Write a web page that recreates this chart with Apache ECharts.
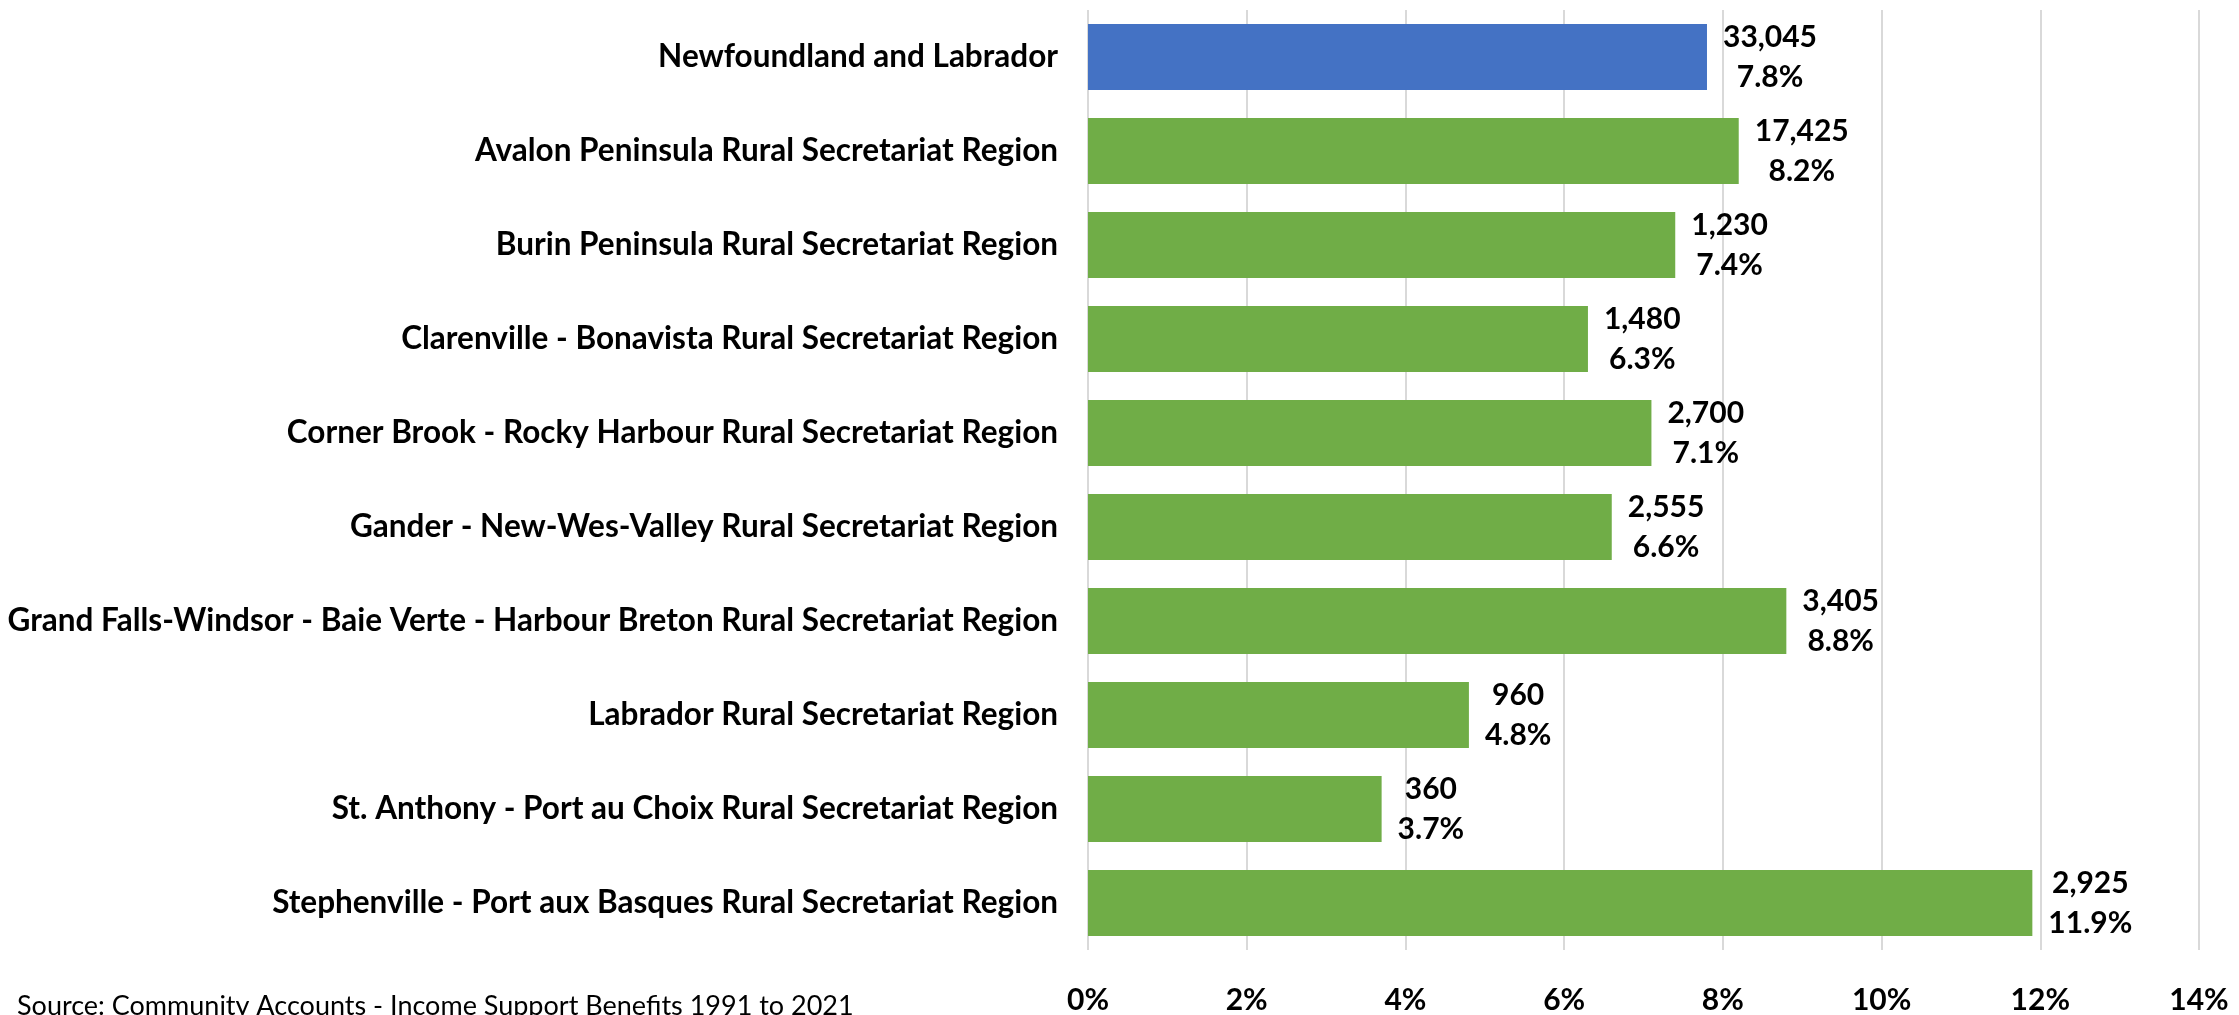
<!DOCTYPE html>
<html>
<head>
<meta charset="utf-8">
<script src="https://cdn.jsdelivr.net/npm/echarts@6/dist/echarts.min.js"></script>
<style>
  html, body { margin: 0; padding: 0; background: #fff; }
  #chart { width: 2239px; height: 1015px; }
</style>
</head>
<body>
<div id="chart"></div>
<script>
// Income support recipients by Rural Secretariat region
const regions = [
  'Newfoundland and Labrador',
  'Avalon Peninsula Rural Secretariat Region',
  'Burin Peninsula Rural Secretariat Region',
  'Clarenville - Bonavista Rural Secretariat Region',
  'Corner Brook - Rocky Harbour Rural Secretariat Region',
  'Gander - New-Wes-Valley Rural Secretariat Region',
  'Grand Falls-Windsor - Baie Verte - Harbour Breton Rural Secretariat Region',
  'Labrador Rural Secretariat Region',
  'St. Anthony - Port au Choix Rural Secretariat Region',
  'Stephenville - Port aux Basques Rural Secretariat Region'
];
const recipients = [33045, 17425, 1230, 1480, 2700, 2555, 3405, 960, 360, 2925];
const ratePct = [7.8, 8.2, 7.4, 6.3, 7.1, 6.6, 8.8, 4.8, 3.7, 11.9];
const barColors = ['#4472C4', '#70AD47', '#70AD47', '#70AD47', '#70AD47', '#70AD47', '#70AD47', '#70AD47', '#70AD47', '#70AD47'];
const sourceNote = 'Source: Community Accounts - Income Support Benefits 1991 to 2021';

const FONT = "Lato, 'Liberation Sans', sans-serif";
const SIZE = 30;

const chart = echarts.init(document.getElementById('chart'));
chart.setOption({
  backgroundColor: '#ffffff',
  animation: false,
  textStyle: { fontFamily: FONT },
  graphic: [{
    type: 'text',
    left: 17,
    top: 993,
    style: { text: sourceNote, fontFamily: FONT, fontSize: 27, fill: '#000000' }
  }],
  grid: { left: 1088, right: 40, top: 10, bottom: 62, containLabel: false },
  xAxis: {
    type: 'value',
    min: 0,
    max: 14,
    interval: 2,
    axisLine: { show: false },
    axisTick: { show: false },
    splitLine: { show: true, lineStyle: { color: '#D9D9D9', width: 2 } },
    axisLabel: {
      formatter: '{value}%',
      fontFamily: FONT,
      fontWeight: 'bold',
      fontSize: SIZE,
      color: '#000000',
      margin: 35
    }
  },
  yAxis: {
    type: 'category',
    inverse: true,
    data: regions,
    axisLine: { show: false },
    axisTick: { show: false },
    axisLabel: {
      fontFamily: FONT,
      fontWeight: 'bold',
      fontSize: 31.5,
      color: '#000000',
      margin: 30
    }
  },
  series: [{
    type: 'bar',
    barCategoryGap: '30%',
    data: ratePct.map((v, i) => ({ value: v, itemStyle: { color: barColors[i] } })),
    label: {
      show: true,
      position: 'right',
      distance: 16,
      align: 'left',
      color: '#000000',
      formatter: p => '{v|' + recipients[p.dataIndex].toLocaleString('en-US') + '}\n{v|' + ratePct[p.dataIndex].toFixed(1) + '%}',
      rich: {
        v: {
          align: 'center',
          fontFamily: FONT,
          fontWeight: 'bold',
          fontSize: SIZE,
          lineHeight: 40,
          color: '#000000'
        }
      }
    }
  }]
});
</script>
</body>
</html>
